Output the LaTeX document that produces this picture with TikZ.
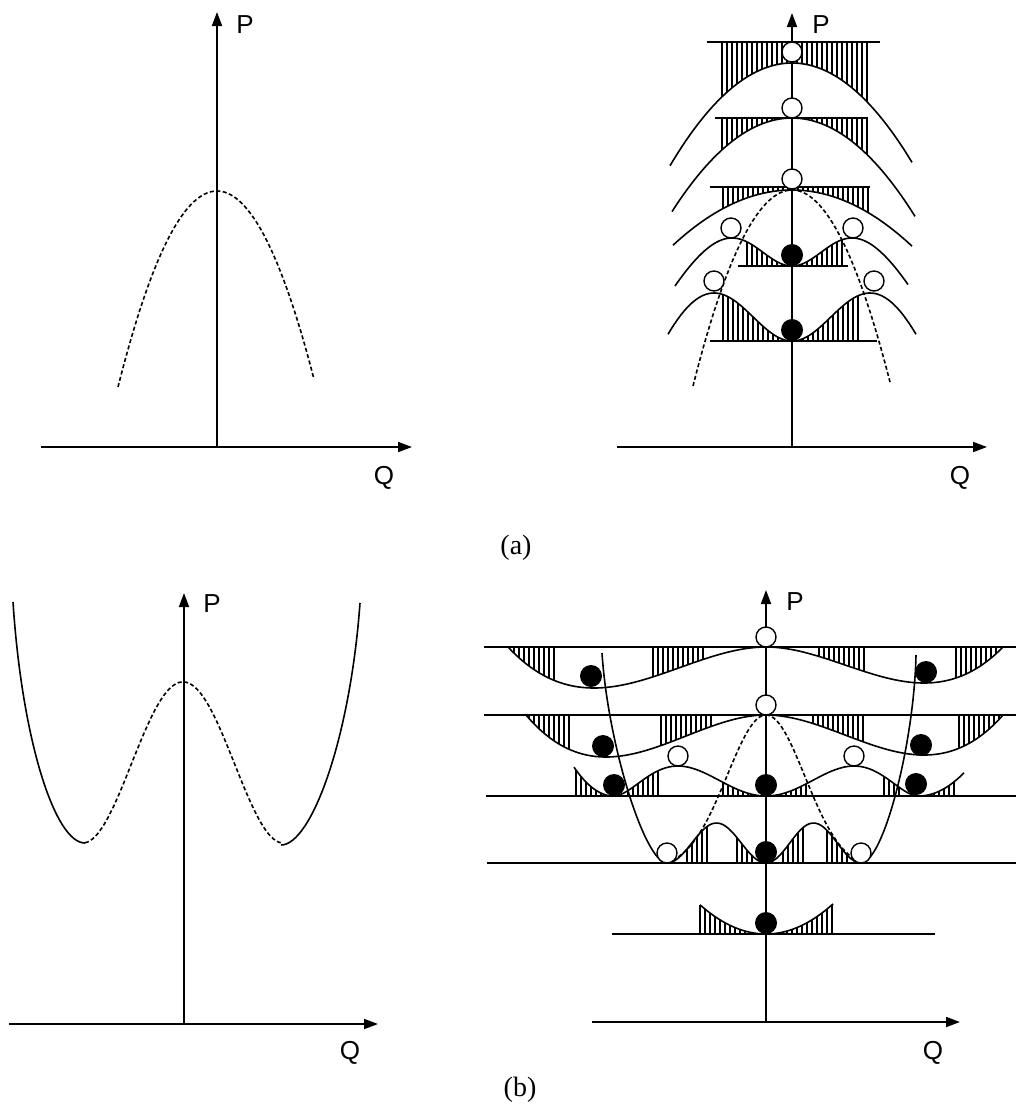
\documentclass[tikz,border=0pt]{standalone}
\usepackage{fontspec}
\setmainfont{Liberation Serif}
\newfontfamily\lsans{Liberation Sans}
\usetikzlibrary{arrows.meta}
\begin{document}
\begin{tikzpicture}[x=1pt,y=-1pt,
  declare function={
    sq(\t)=(\t)*(\t);
    fa(\x)=191+2*sq((\x-217)/10);
    fb(\x)=190+2*sq((\x-792)/10);
    fone(\x)=63+0.69*sq((\x-792)/10);
    ftwo(\x)=118+0.65*sq((\x-792)/10);
    fthree(\x)=190+0.39*sq((\x-792)/10);
    ffour(\x)=199.6+0.629*sq((\x-792)/10)+66.4*exp(-sq((\x-792)/50));
    ffive(\x)=204.6+0.805*sq((\x-792)/10)+136.4*exp(-sq((\x-792)/70));
    fdw(\x)=1362.8-2.497*sq((\x-183)/10)-680.8*exp(-sq((\x-183)/104));
    fAl(\x)=647+276.75*sq((766-\x)/258)*(1-(766-\x)/258);
    fAr(\x)=647+243*sq((\x-766)/237)*(1-(\x-766)/237);
    fBl(\x)=715+283.5*sq((766-\x)/240)*(1-(766-\x)/240);
    fBr(\x)=715+270*sq((\x-766)/237)*(1-(\x-766)/237);
    fCin(\x)=796-202.5*sq((\x-766)/152.5)*sq(1-sq((\x-766)/152.5));
    fCl(\x)=796-430*sq((613.5-\x)/152.5);
    fCr(\x)=796-261*sq((\x-918.5)/152.5);
    fDl(\x)=863-40*sq(sin(1.81818*(\x-766)));
    fDr(\x)=863-40*sq(sin(1.89474*(\x-766)));
    fdl(\x)=863-148*(exp(-sq((\x-766)/55))-0.0392)/0.9608;
    fdr(\x)=863-148*(exp(-sq((\x-766)/55))-0.0506)/0.9494;
    fE(\x)=934-0.67*sq((\x-766)/10);
  },
  axis/.style={line width=1.8pt,-{Triangle[length=14pt,width=10pt]}},
  curve/.style={line width=1.6pt},
  lvl/.style={line width=1.6pt},
  hatch/.style={line width=1.1pt},
  dashc/.style={line width=1.6pt,dash pattern=on 4pt off 2.5pt},
  oball/.style={draw,line width=1.4pt,fill=white},
  fball/.style={fill=black},
  lab/.style={font=\lsans\fontsize{26}{26}\selectfont,inner sep=0pt},
  figlabel/.style={font=\fontsize{28}{28}\selectfont,inner sep=0pt}
]
\fill[white] (0,0) rectangle (1016,1119);
\useasboundingbox (0,0) rectangle (1016,1119);

% ================= (a) left =================
\coordinate (tlO) at (217,447);
\coordinate (tlP) at (217,12);
\coordinate (tlQa) at (41,447);
\coordinate (tlQb) at (412,447);
\draw[dashc] plot[domain=118:314,samples=60] (\x,{fa(\x)});
\draw[axis] (tlO) -- (tlP);
\draw[axis] (tlQa) -- (tlQb);
\node[lab] (tlPl) at (245,25) {P};
\node[lab] (tlQl) at (384,478) {Q};

% ================= (a) right =================
\foreach \x in {722,727,...,867} \draw[hatch] (\x,42) -- (\x,{fone(\x)});
\foreach \x in {722,727,...,867} \draw[hatch] (\x,118) -- (\x,{ftwo(\x)});
\foreach \x in {723,728,...,868} \draw[hatch] (\x,187) -- (\x,{fthree(\x)});
\foreach \x in {747,752,...,842} \draw[hatch] (\x,266) -- (\x,{ffour(\x)});
\foreach \x in {723,728,...,858} \draw[hatch] (\x,341) -- (\x,{ffive(\x)});
\draw[lvl] (707,42) -- (880,42);
\draw[lvl] (715,118) -- (868,118);
\draw[lvl] (710,187) -- (870,187);
\draw[lvl] (738,266) -- (848,266);
\draw[lvl] (710,341) -- (877,341);
\draw[curve] plot[domain=670:912,samples=60] (\x,{fone(\x)});
\draw[curve] plot[domain=672:915,samples=60] (\x,{ftwo(\x)});
\draw[curve] plot[domain=673:912,samples=60] (\x,{fthree(\x)});
\draw[curve] plot[domain=675:908,samples=80] (\x,{ffour(\x)});
\draw[curve] plot[domain=668:916,samples=80] (\x,{ffive(\x)});
\draw[dashc] plot[domain=693:890,samples=60] (\x,{fb(\x)});
\coordinate (trO) at (792,447);
\coordinate (trP) at (792,13);
\coordinate (trQa) at (617,447);
\coordinate (trQb) at (987,447);
\draw[axis] (trO) -- (trP);
\draw[axis] (trQa) -- (trQb);
\node[lab] (trPl) at (821,25) {P};
\node[lab] (trQl) at (960,478) {Q};
\draw[oball] (792,52) circle[radius=10pt];
\draw[oball] (792,108) circle[radius=10pt];
\draw[oball] (792,179) circle[radius=10pt];
\draw[oball] (731,228) circle[radius=10pt];
\draw[oball] (853,228) circle[radius=10pt];
\draw[oball] (714,281) circle[radius=10pt];
\draw[oball] (874,281) circle[radius=10pt];
\fill[fball] (792,255) circle[radius=11pt];
\fill[fball] (792,330) circle[radius=11pt];

\node[figlabel] (la) at (516,548) {(a)};

% ================= (b) left =================
\coordinate (blLtop) at (13,602);
\coordinate (blLmin) at (85,843);
\coordinate (blRmin) at (281,845);
\coordinate (blRtop) at (360,603);
\draw[curve] (blLtop) .. controls (22,740) and (55,843) .. (blLmin);
\draw[dashc] plot[domain=85:281,samples=80] (\x,{fdw(\x)});
\draw[curve] (blRmin) .. controls (311,845) and (350,740) .. (blRtop);
\coordinate (blO) at (184,1024);
\coordinate (blP) at (184,593);
\coordinate (blQa) at (9,1024);
\coordinate (blQb) at (378,1024);
\draw[axis] (blO) -- (blP);
\draw[axis] (blQa) -- (blQb);
\node[lab] (blPl) at (212,604) {P};
\node[lab] (blQl) at (350,1053) {Q};

% ================= (b) right =================
\foreach \x in {509,514,...,556} \draw[hatch] (\x,647) -- (\x,{fAl(\x)});
\foreach \x in {653,658,...,703} \draw[hatch] (\x,647) -- (\x,{fAl(\x)});
\foreach \x in {819,824,...,868} \draw[hatch] (\x,647) -- (\x,{fAr(\x)});
\foreach \x in {956,961,...,999} \draw[hatch] (\x,647) -- (\x,{fAr(\x)});
\foreach \x in {529,534,...,569} \draw[hatch] (\x,715) -- (\x,{fBl(\x)});
\foreach \x in {661,666,...,711} \draw[hatch] (\x,715) -- (\x,{fBl(\x)});
\foreach \x in {813,818,...,866} \draw[hatch] (\x,715) -- (\x,{fBr(\x)});
\foreach \x in {959,964,...,999} \draw[hatch] (\x,715) -- (\x,{fBr(\x)});
\foreach \x in {576,581,...,606} \draw[hatch] (\x,796) -- (\x,{fCl(\x)});
\foreach \x in {628,633,...,658} \draw[hatch] (\x,796) -- (\x,{fCin(\x)});
\foreach \x in {723,728,...,753} \draw[hatch] (\x,796) -- (\x,{fCin(\x)});
\foreach \x in {776,781,...,809} \draw[hatch] (\x,796) -- (\x,{fCin(\x)});
\foreach \x in {884,889,...,903} \draw[hatch] (\x,796) -- (\x,{fCin(\x)});
\foreach \x in {929,934,...,956} \draw[hatch] (\x,796) -- (\x,{fCr(\x)});
\foreach \x in {687,692,...,710} \draw[hatch] (\x,863) -- (\x,{fDl(\x)});
\foreach \x in {737,742,...,753} \draw[hatch] (\x,863) -- (\x,{fDl(\x)});
\foreach \x in {783,788,...,803} \draw[hatch] (\x,863) -- (\x,{fDr(\x)});
\foreach \x in {827,832,...,847} \draw[hatch] (\x,863) -- (\x,{fDr(\x)});
\foreach \x in {700,705,...,755} \draw[hatch] (\x,934) -- (\x,{fE(\x)});
\foreach \x in {777,782,...,832} \draw[hatch] (\x,934) -- (\x,{fE(\x)});
\draw[lvl] (484,647) -- (1016,647);
\draw[lvl] (484,715) -- (1016,715);
\draw[lvl] (486,796) -- (1016,796);
\draw[lvl] (487,863) -- (1016,863);
\draw[lvl] (612,934) -- (935,934);
\draw[curve] plot[domain=508:766,samples=70] (\x,{fAl(\x)});
\draw[curve] plot[domain=766:1003,samples=70] (\x,{fAr(\x)});
\draw[curve] plot[domain=526:766,samples=70] (\x,{fBl(\x)});
\draw[curve] plot[domain=766:1003,samples=70] (\x,{fBr(\x)});
\draw[curve] plot[domain=574:613.5,samples=20] (\x,{fCl(\x)});
\draw[curve] plot[domain=613.5:918.5,samples=90] (\x,{fCin(\x)});
\draw[curve] plot[domain=918.5:964,samples=20] (\x,{fCr(\x)});
\draw[curve] plot[domain=667:766,samples=50] (\x,{fDl(\x)});
\draw[curve] plot[domain=766:861,samples=50] (\x,{fDr(\x)});
\coordinate (ULtop) at (602,653);
\coordinate (ULbot) at (667,863);
\coordinate (URbot) at (861,863);
\coordinate (URtop) at (916,655);
\draw[curve] (ULtop) .. controls (608,745) and (645,863) .. (ULbot);
\draw[curve] (URbot) .. controls (883,863) and (914,745) .. (URtop);
\draw[dashc] plot[domain=667:766,samples=50] (\x,{fdl(\x)});
\draw[dashc] plot[domain=766:861,samples=50] (\x,{fdr(\x)});
\draw[curve] plot[domain=700:833,samples=50] (\x,{fE(\x)});
\coordinate (brO) at (766,1022);
\coordinate (brP) at (766,590);
\coordinate (brQa) at (592,1022);
\coordinate (brQb) at (960,1022);
\draw[axis] (brO) -- (brP);
\draw[axis] (brQa) -- (brQb);
\node[lab] (brPl) at (795,602) {P};
\node[lab] (brQl) at (933,1053) {Q};
\draw[oball] (766,637) circle[radius=10pt];
\draw[oball] (766,705) circle[radius=10pt];
\draw[oball] (678,756) circle[radius=10pt];
\draw[oball] (854,756) circle[radius=10pt];
\draw[oball] (667,853) circle[radius=10pt];
\draw[oball] (861,853) circle[radius=10pt];
\fill[fball] (591,676) circle[radius=11pt];
\fill[fball] (926,672) circle[radius=11pt];
\fill[fball] (603,746) circle[radius=11pt];
\fill[fball] (921,745) circle[radius=11pt];
\fill[fball] (614,785) circle[radius=11pt];
\fill[fball] (766,785) circle[radius=11pt];
\fill[fball] (916,784) circle[radius=11pt];
\fill[fball] (766,852) circle[radius=11pt];
\fill[fball] (766,923) circle[radius=11pt];

\node[figlabel] (lb) at (520,1090) {(b)};
\end{tikzpicture}
\end{document}
